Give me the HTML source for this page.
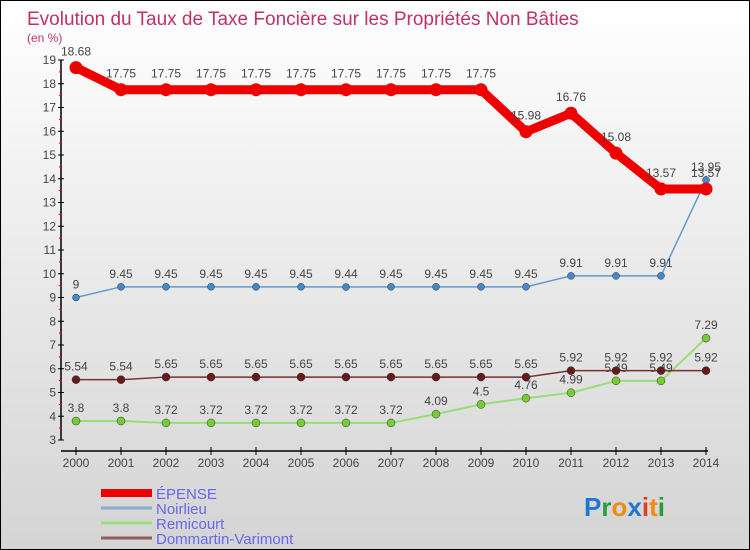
<!DOCTYPE html>
<html><head><meta charset="utf-8"><style>
body{margin:0}
#c{width:748px;height:548px;border:1px solid #000;background:linear-gradient(#fff,#d4d4d4);position:relative;overflow:hidden;font-family:"Liberation Sans",sans-serif}
</style></head><body>
<div id="c">
<svg id="s" width="748" height="548"></svg>
</div>
<script>
const years=[2000,2001,2002,2003,2004,2005,2006,2007,2008,2009,2010,2011,2012,2013,2014];
const epense=[18.68,17.75,17.75,17.75,17.75,17.75,17.75,17.75,17.75,17.75,15.98,16.76,15.08,13.57,13.57];
const noirlieu=[9,9.45,9.45,9.45,9.45,9.45,9.44,9.45,9.45,9.45,9.45,9.91,9.91,9.91,13.95];
const remicourt=[3.8,3.8,3.72,3.72,3.72,3.72,3.72,3.72,4.09,4.5,4.76,4.99,5.49,5.49,7.29];
const dommartin=[5.54,5.54,5.65,5.65,5.65,5.65,5.65,5.65,5.65,5.65,5.65,5.92,5.92,5.92,5.92];
const yTicks=[3,4,5,6,7,8,9,10,11,12,13,14,15,16,17,18,19];
const seriesNames=["ÉPENSE","Noirlieu","Remicourt","Dommartin-Varimont"];

const NS="http://www.w3.org/2000/svg";
const svg=document.getElementById('s');
const X=i=>75+i*45;
const Y=v=>439-(v-3)*23.75;
function el(t,a,p){const e=document.createElementNS(NS,t);for(const k in a)e.setAttribute(k,a[k]);(p||svg).appendChild(e);return e;}
function tx(x,y,str,a){const e=el('text',Object.assign({x:x,y:y,'font-size':12,fill:'#444'},a||{}));e.textContent=str;return e;}

let t=tx(26,24,"Evolution du Taux de Taxe Foncière sur les Propriétés Non Bâties",{'font-size':19,fill:'#c0306a'});


t=tx(26,41,"(en %)",{'font-size':12,fill:'#c0306a'});



// y axis
let ax=el('line',{x1:60,y1:Y(19),x2:60,y2:Y(3),stroke:'#000','stroke-width':1.5});


yTicks.forEach(v=>{
  el('line',{x1:57,x2:63,y1:Y(v),y2:Y(v),stroke:'#000'});
  if(v<19) el('line',{x1:58,x2:61,y1:Y(v+0.5),y2:Y(v+0.5),stroke:'#e00'});
  const l=tx(55,Y(v)+4,String(v),{'text-anchor':'end'});
  
  
});
// x axis
ax=el('line',{x1:60,y1:450,x2:X(14)+2,y2:450,stroke:'#000','stroke-width':1.5});


years.forEach((yr,i)=>{
  el('line',{x1:X(i),x2:X(i),y1:446,y2:454,stroke:'#000'});
  const l=tx(X(i),466,String(yr),{'text-anchor':'middle'});
  
  
});

function series(data,color,w,r,fill,name,lab){
  const g=el('g',{});
  
  
  el('polyline',{points:data.map((v,i)=>X(i)+','+Y(v)).join(' '),fill:'none',stroke:color,'stroke-width':w},g);
  data.forEach((v,i)=>{
    const c=el('circle',{cx:X(i),cy:Y(v),r:r,fill:fill,stroke:w>3?'none':'#333','stroke-width':0.5},g);
    
    
    const l=tx(X(i),Y(v)-9-(w>3?3:0),String(v),{'text-anchor':'middle'},g);
    
    
  });
}
series(remicourt,'#99dd77',2,4,'#77cc33','series-remicourt');
series(dommartin,'#7a3030',1.5,4,'#661a1a','series-dommartin');
series(noirlieu,'#6699cc',1.5,3.5,'#4488cc','series-noirlieu');
series(epense,'#ee0000',9,6.5,'#ee0000','series-epense');

// legend
const lc=['#ee0000','#88aacc','#99dd77','#906060'],lw=[8,3,3,3];
seriesNames.forEach((n,i)=>{
  const g=el('g',{});
  
  
  const y=492+i*15;
  el('line',{x1:100,x2:151,y1:y,y2:y,stroke:lc[i],'stroke-width':lw[i]},g);
  tx(155,y+6,n,{'font-size':15,fill:'#6666ee'},g);
});
// logo
const lg=el('text',{x:583,y:515,'font-size':26,'font-weight':'bold'});


[['P','#1f77d0'],['r','#2a9d3a'],['o','#f08a10'],['x','#1f77d0'],['i','#e04020'],['t','#f08a10'],['i','#2a9d3a']].forEach(([c,col])=>{
  const s=el('tspan',{fill:col},lg);s.textContent=c;
});
</script>
</body></html>
